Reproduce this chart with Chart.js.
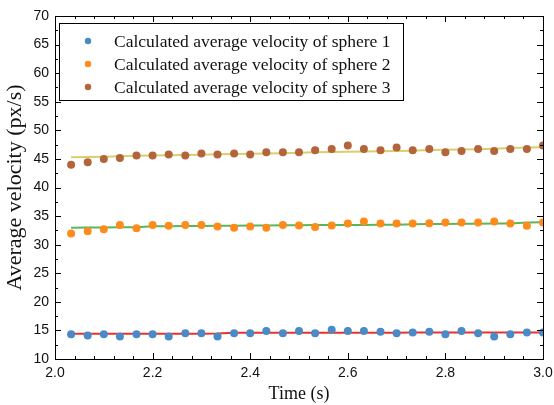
<!DOCTYPE html>
<html>
<head>
<meta charset="utf-8">
<script src="https://cdn.jsdelivr.net/npm/chart.js@4.4.1/dist/chart.umd.min.js"></script>
<style>
  html, body { margin: 0; padding: 0; background: #fff; }
  #wrap { width: 554px; height: 405px; }
</style>
</head>
<body>
<div id="wrap"><canvas id="myChart" width="554" height="405"></canvas></div>
<script>
// time of each measurement (s)
const times = [2.033, 2.067, 2.1, 2.133, 2.167, 2.2, 2.233, 2.267, 2.3, 2.333,
               2.367, 2.4, 2.433, 2.467, 2.5, 2.533, 2.567, 2.6, 2.633, 2.667,
               2.7, 2.733, 2.767, 2.8, 2.833, 2.867, 2.9, 2.933, 2.967, 3.0];

// calculated average velocities (px/s)
const sphere1 = [14.35, 14.1, 14.35, 13.95, 14.35, 14.35, 13.95, 14.5, 14.5, 13.95,
                 14.5, 14.5, 14.9, 14.5, 14.9, 14.5, 15.1, 14.9, 14.9, 14.75,
                 14.5, 14.65, 14.75, 14.35, 14.9, 14.5, 13.95, 14.35, 14.65, 14.65];
const sphere2 = [31.94, 32.35, 32.7, 33.46, 32.88, 33.46, 33.29, 33.46, 33.46, 33.17,
                 32.94, 33.17, 32.94, 33.46, 33.34, 33.1, 33.34, 33.7, 34.04, 33.7,
                 33.7, 33.7, 33.75, 33.87, 33.87, 33.87, 34.04, 33.7, 33.29, 33.87];
const sphere3 = [44.0, 44.42, 45.0, 45.17, 45.58, 45.58, 45.76, 45.58, 45.93, 45.76,
                 45.93, 45.76, 46.17, 46.17, 46.17, 46.52, 46.75, 47.33, 46.75, 46.52,
                 46.98, 46.52, 46.75, 46.17, 46.4, 46.75, 46.4, 46.75, 46.75, 47.33];

// smoothed fit curves
const fit1 = [14.42, 14.42, 14.42, 14.42, 14.42, 14.42, 14.42, 14.42, 14.43, 14.45,
              14.58, 14.6, 14.6, 14.6, 14.6, 14.6, 14.6, 14.6, 14.6, 14.6,
              14.6, 14.62, 14.62, 14.62, 14.62, 14.63, 14.63, 14.64, 14.65, 14.65];
const fit2 = [32.95, 33.0, 33.02, 33.05, 33.05, 33.2, 33.22, 33.25, 33.27, 33.3,
              33.3, 33.35, 33.37, 33.4, 33.4, 33.42, 33.45, 33.45, 33.45, 33.47,
              33.5, 33.55, 33.6, 33.62, 33.65, 33.67, 33.7, 33.72, 33.87, 33.9];
const fit3 = [45.3, 45.33, 45.4, 45.45, 45.55, 45.6, 45.65, 45.7, 45.75, 45.8,
              45.85, 45.9, 45.95, 46.0, 46.1, 46.15, 46.2, 46.25, 46.3, 46.35,
              46.4, 46.45, 46.55, 46.6, 46.65, 46.7, 46.8, 46.9, 47.0, 47.05];

const labels = ['Calculated average velocity of sphere 1',
                'Calculated average velocity of sphere 2',
                'Calculated average velocity of sphere 3'];

const pts = (ys) => ys.map((y, i) => ({ x: times[i], y: y }));

const dotColors = ['#4a8bc7', '#ff8b1c', '#b4643a'];
const lineColors = ['#e8332c', '#5db55a', '#dccd6c'];

const serif = '"Liberation Serif", "Times New Roman", serif';
const sans = '"Liberation Sans", Arial, sans-serif';

// inward ticks on all four sides + box + legend
const frame = {
    id: 'frame',
    afterDraw(chart) {
        const { ctx, chartArea: a, scales: { x, y } } = chart;
        ctx.save();
        ctx.strokeStyle = '#000';
        ctx.lineWidth = 1;
        ctx.strokeRect(a.left + 0.5, a.top + 0.5, a.right - a.left, a.bottom - a.top);

        ctx.beginPath();
        for (let i = 0; i <= 25; i++) {
            const v = 2 + i * 0.04;
            const px = Math.round(x.getPixelForValue(v)) + 0.5;
            const len = (i % 5 === 0) ? 6 : 3;
            ctx.moveTo(px, a.bottom); ctx.lineTo(px, a.bottom - len);
            ctx.moveTo(px, a.top); ctx.lineTo(px, a.top + len);
        }
        for (let i = 0; i <= 24; i++) {
            const v = 10 + i * 2.5;
            const py = Math.round(y.getPixelForValue(v)) + 0.5;
            const len = (i % 2 === 0) ? 6 : 3;
            ctx.moveTo(a.left, py); ctx.lineTo(a.left + len, py);
            ctx.moveTo(a.right, py); ctx.lineTo(a.right - len, py);
        }
        ctx.stroke();

        // legend box
        ctx.fillStyle = '#fff';
        ctx.fillRect(59, 23, 344, 77);
        ctx.strokeRect(59.5, 23.5, 344, 77);
        ctx.font = '17.5px ' + serif;
        ctx.textBaseline = 'middle';
        for (let i = 0; i < 3; i++) {
            const cy = 41 + i * 23;
            ctx.fillStyle = dotColors[i];
            ctx.beginPath();
            ctx.arc(88, cy, 3.2, 0, Math.PI * 2);
            ctx.fill();
            ctx.fillStyle = '#111';
            ctx.fillText(labels[i], 114, cy + 1);
        }
        ctx.restore();
    }
};

document.addEventListener('DOMContentLoaded', () => {
    const ctx = document.getElementById('myChart').getContext('2d');

    const dotSet = (i, data) => ({
        type: 'scatter',
        label: labels[i],
        data: pts(data),
        backgroundColor: dotColors[i],
        borderColor: dotColors[i],
        pointRadius: 4,
        pointBorderWidth: 0,
        order: 0,
    });
    const lineSet = (i, data) => ({
        type: 'line',
        label: 'fit ' + (i + 1),
        data: pts(data),
        borderColor: lineColors[i],
        borderWidth: 2,
        pointRadius: 0,
        fill: false,
        order: 1,
    });

    new Chart(ctx, {
        type: 'scatter',
        data: {
            datasets: [
                dotSet(0, sphere1), dotSet(1, sphere2), dotSet(2, sphere3),
                lineSet(0, fit1), lineSet(1, fit2), lineSet(2, fit3),
            ],
        },
        options: {
            responsive: false,
            animation: false,
            layout: { padding: { top: 16, right: 11, left: 0, bottom: 0 } },
            plugins: { legend: { display: false }, tooltip: { enabled: false } },
            scales: {
                x: {
                    type: 'linear',
                    min: 2.0,
                    max: 3.0,
                    grid: { display: false, drawTicks: false },
                    border: { display: false },
                    afterFit: (s) => { s.height = 46; s.paddingLeft = 0; s.paddingRight = 0; },
                    ticks: {
                        stepSize: 0.2,
                        padding: 6,
                        color: '#111',
                        font: { family: sans, size: 14 },
                        callback: (v) => v.toFixed(1),
                    },
                    title: {
                        display: true,
                        text: 'Time (s)',
                        color: '#111',
                        padding: { top: 0, bottom: 0 },
                        font: { family: serif, size: 18 },
                    },
                },
                y: {
                    min: 10,
                    max: 70,
                    grid: { display: false, drawTicks: false },
                    border: { display: false },
                    afterFit: (s) => { s.width = 55; s.paddingTop = 0; s.paddingBottom = 0; },
                    ticks: {
                        stepSize: 5,
                        padding: 6,
                        color: '#111',
                        font: { family: sans, size: 14 },
                    },
                    title: {
                        display: true,
                        text: 'Average velocity (px/s)',
                        color: '#111',
                        padding: { top: 2, bottom: 0 },
                        font: { family: serif, size: 22 },
                    },
                },
            },
        },
        plugins: [frame],
    });
});
</script>
</body>
</html>
